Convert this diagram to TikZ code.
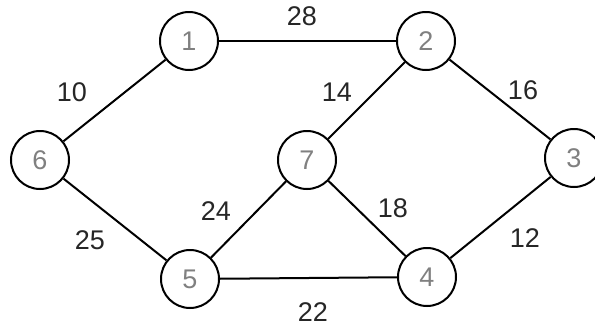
\documentclass[tikz,border=0pt]{standalone}
\usepackage{fontspec}
\setmainfont{Liberation Sans}
\begin{document}
\begin{tikzpicture}[x=1pt,y=-1pt,
  vertex/.style={circle,draw=black,line width=2pt,minimum size=58pt,inner sep=0pt,text=black!50,font=\fontsize{27}{30}\selectfont},
  edge/.style={line width=2pt,black},
  wlabel/.style={font=\fontsize{27}{30}\selectfont,text=black!85}]
\useasboundingbox (0,0) rectangle (595,327);
\node[vertex] (n1) at (189,41) {1};
\node[vertex] (n2) at (426,41) {2};
\node[vertex] (n3) at (574,158) {3};
\node[vertex] (n4) at (427,277) {4};
\node[vertex] (n5) at (190,279) {5};
\node[vertex] (n6) at (40,160) {6};
\node[vertex] (n7) at (307,160) {7};
\draw[edge] (n1) -- (n2);
\draw[edge] (n1) -- (n6);
\draw[edge] (n2) -- (n7);
\draw[edge] (n2) -- (n3);
\draw[edge] (n6) -- (n5);
\draw[edge] (n7) -- (n5);
\draw[edge] (n7) -- (n4);
\draw[edge] (n3) -- (n4);
\draw[edge] (n5) -- (n4);
\node[wlabel] (w28) at (302,16) {28};
\node[wlabel] (w10) at (72,92) {10};
\node[wlabel] (w14) at (337,92) {14};
\node[wlabel] (w16) at (523,90) {16};
\node[wlabel] (w24) at (216,211) {24};
\node[wlabel] (w25) at (90,240) {25};
\node[wlabel] (w18) at (393,208) {18};
\node[wlabel] (w12) at (525,238) {12};
\node[wlabel] (w22) at (313,312) {22};
\end{tikzpicture}
\end{document}
